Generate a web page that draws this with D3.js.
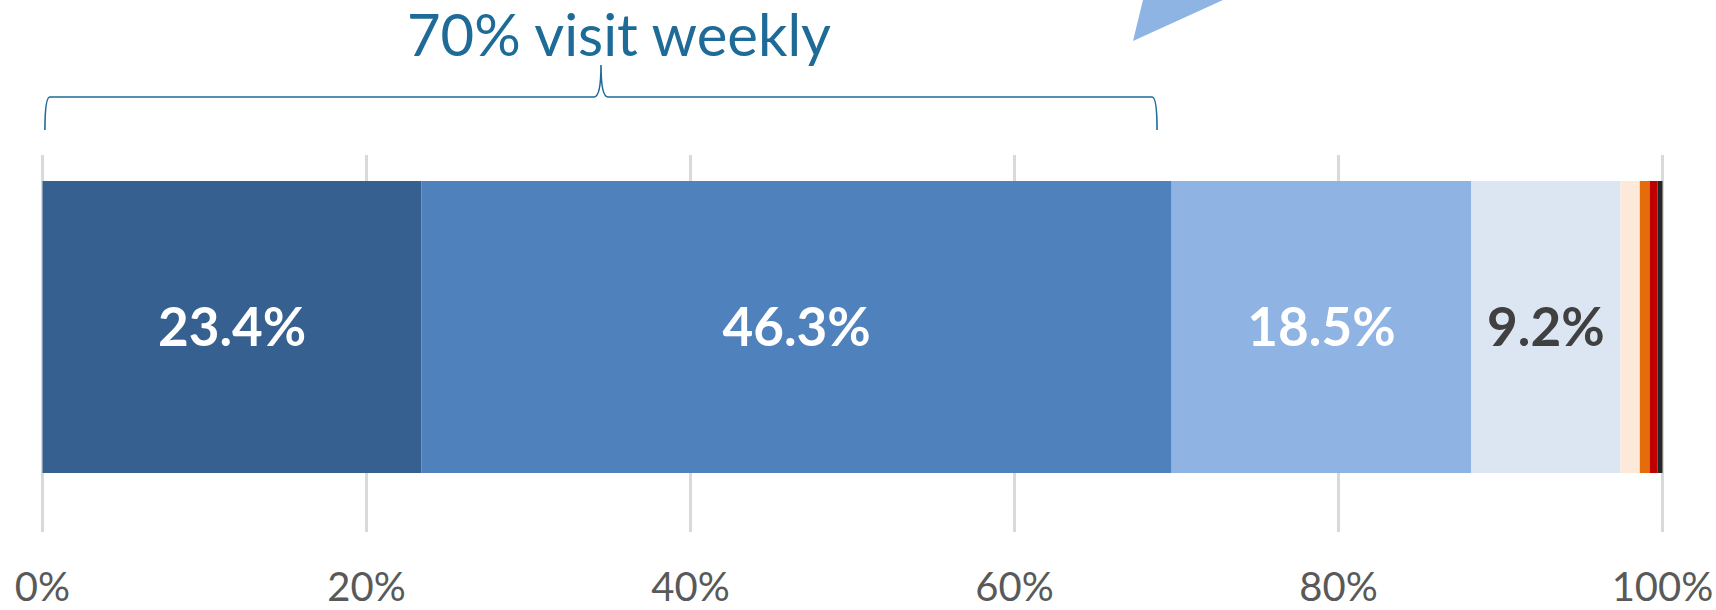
<!DOCTYPE html>
<html>
<head>
<meta charset="utf-8">
<script src="https://cdnjs.cloudflare.com/ajax/libs/d3/7.8.5/d3.min.js"></script>
<style>
  body { margin: 0; background: #ffffff; }
  svg { display: block; font-family: Lato, "Open Sans", sans-serif; }
</style>
</head>
<body>
<script>
// Data: share of respondents by visit frequency (stacked to 100%)
var categories = ["Daily", "Weekly", "Monthly", "Few times a year", "Once a year", "Less often", "Never", "Don't know"];
var values = [23.4, 46.3, 18.5, 9.2, 1.2, 0.6, 0.5, 0.3];
var labels = ["23.4%", "46.3%", "18.5%", "9.2%", "", "", "", ""];
var tickValues = [0, 20, 40, 60, 80, 100];
var tickLabels = ["0%", "20%", "40%", "60%", "80%", "100%"];
var bracketSpan = [0.15, 68.8];
var bracketText = "70% visit weekly";

var colors = ["#36608f", "#4f81bd", "#8fb4e3", "#dce6f2", "#fde9d9", "#e46c0a", "#c00000", "#262626"];
var labelColors = ["#ffffff", "#ffffff", "#ffffff", "#404040"];

var width = 1716,
height = 610;

// x scale for the percentages
var x = d3.scaleLinear().
domain([0, 100]).
range([42.5, 1662.5]);

// one band for the single bar
var y = d3.scaleBand().
domain(["all"]).
range([181, 473]);

var svg = d3.select("body").append("svg").
attr("width", width).
attr("height", height);

// gridlines
svg.selectAll(".grid").
data(tickValues).
enter().append("line").
attr("class", "grid").
attr("x1", function (d) { return x(d); }).
attr("x2", function (d) { return x(d); }).
attr("y1", 155).
attr("y2", 532).
style("stroke", "#d9d9d9").
style("stroke-width", 3);

// cumulative starts for the stack
var starts = [];
var acc = 0;
values.forEach(function (v) {
  starts.push(acc);
  acc += v;
});

svg.selectAll(".seg").
data(values).
enter().append("rect").
attr("class", "seg").
attr("x", function (d, i) { return x(starts[i]); }).
attr("y", y("all")).
attr("width", function (d, i) { return x(starts[i] + d) - x(starts[i]); }).
attr("height", y.bandwidth()).
style("fill", function (d, i) { return colors[i]; });

// value labels
svg.selectAll(".val").
data(values).
enter().append("text").
attr("class", "val").
attr("x", function (d, i) { return x(starts[i] + d / 2); }).
attr("y", y("all") + y.bandwidth() / 2).
attr("dy", "0.36em").
attr("text-anchor", "middle").
style("font-size", "53px").
style("font-weight", "bold").
style("fill", function (d, i) { return labelColors[i] || "#ffffff"; }).
text(function (d, i) { return labels[i]; });

// axis tick labels
svg.selectAll(".tick-label").
data(tickValues).
enter().append("text").
attr("class", "tick-label").
attr("x", function (d) { return x(d); }).
attr("y", 601).
attr("text-anchor", "middle").
style("font-size", "40px").
style("fill", "#595959").
text(function (d, i) { return tickLabels[i]; });

// callout pointer at top (cut off by the chart edge)
svg.append("polygon").
attr("points", "1133,41 1145.4,-10 1245,-10").
style("fill", "#8db4e2");

// curly bracket over the weekly share
var bx0 = x(bracketSpan[0]),
bx1 = x(bracketSpan[1]),
bm = (bx0 + bx1) / 2,
by = 97,
bBottom = 130,
bTop = 65;

var path = d3.path();
path.moveTo(bx0, bBottom);
path.quadraticCurveTo(bx0, by, bx0 + 5, by);
path.lineTo(bm - 7, by);
path.quadraticCurveTo(bm, by, bm, bTop);
path.quadraticCurveTo(bm, by, bm + 7, by);
path.lineTo(bx1 - 5, by);
path.quadraticCurveTo(bx1, by, bx1, bBottom);

svg.append("path").
attr("d", path.toString()).
style("fill", "none").
style("stroke", "#1f6b98").
style("stroke-width", 1.6);

svg.append("text").
attr("x", 619).
attr("y", 56).
attr("text-anchor", "middle").
style("font-size", "58px").
style("fill", "#1f6b98").
text(bracketText);
</script>
</body>
</html>
